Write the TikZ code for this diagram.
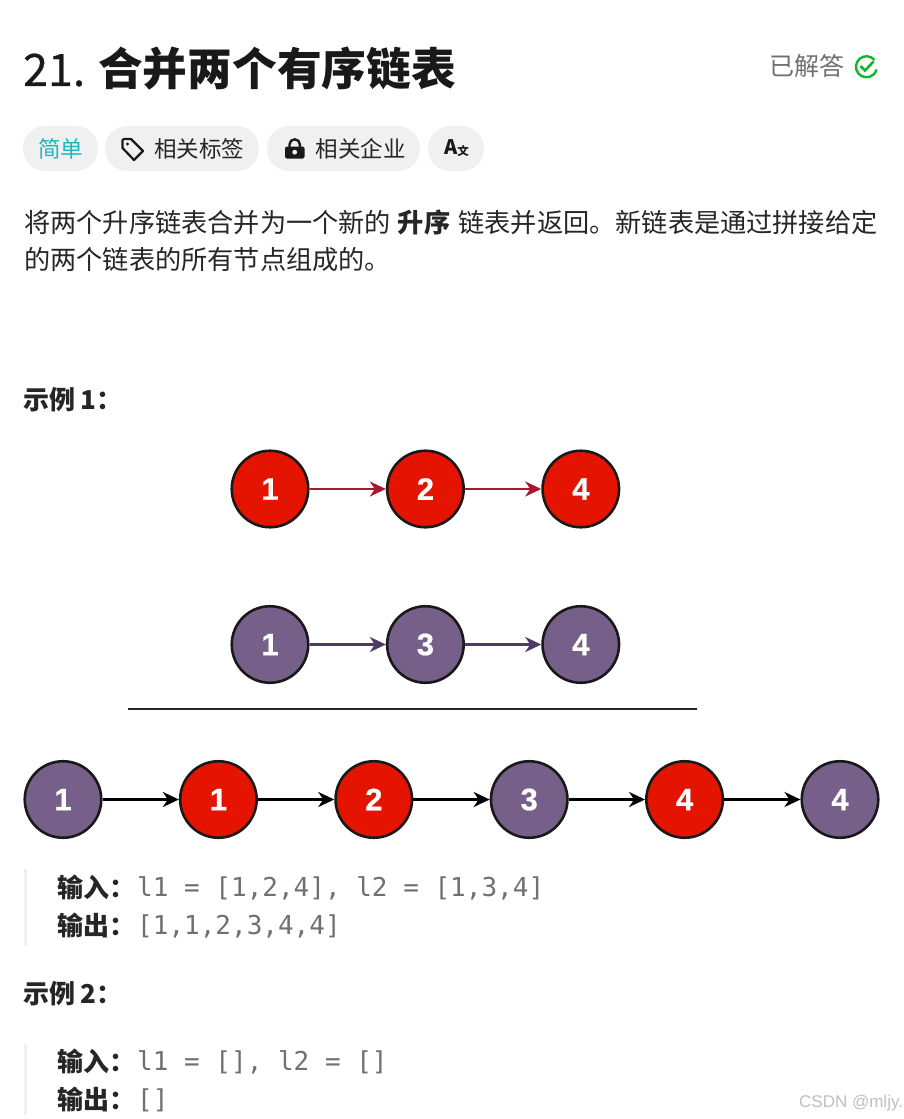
\documentclass[tikz,border=0pt]{standalone}
\usepackage{fontspec}
\usepackage{xcolor}
\usepackage{tikz}
\usetikzlibrary{positioning,arrows.meta}
\setmainfont{Noto Sans CJK SC}
\newfontfamily\codefont{DejaVu Sans Mono}
\newfontfamily\numfont[FakeBold=0.6]{Liberation Sans Bold}
\newfontfamily\titlenum[FakeBold=0.5]{Noto Sans CJK SC}
\newfontfamily\marksfont{Liberation Sans}
\newcommand{\px}[1]{\fontsize{#1}{#1}\selectfont}
\definecolor{inkc}{HTML}{262626}
\definecolor{grayc}{HTML}{707070}
\definecolor{pillc}{HTML}{F0F0F0}
\definecolor{tealc}{HTML}{1CB8B8}
\definecolor{okc}{HTML}{0DB82E}
\definecolor{redc}{HTML}{E51400}
\definecolor{purplec}{HTML}{76608A}
\definecolor{redl}{HTML}{A8182C}
\definecolor{purplel}{HTML}{4F3A66}

\begin{document}
\begin{tikzpicture}[
        x=1pt, y=-1pt,
        node distance=76.3pt,
        txt/.style={anchor=west, inner sep=0pt, text=inkc, font=\px{26.2}},
        head/.style={txt, font=\bfseries\px{26}},
        code/.style={txt, font=\codefont\px{26}, text=grayc},
        pill/.style={fill=pillc, rounded corners=22pt, minimum height=45pt,
                     inner sep=0pt, text=inkc, font=\px{22.5}},
        bar/.style={fill=pillc, inner sep=0pt, minimum width=3pt},
        circ/.style={circle, draw=black!90, line width=2.6pt, minimum size=76.5pt,
                     inner sep=0pt, text=white, font=\numfont\px{31}},
        rednode/.style={circ, fill=redc},
        purnode/.style={circ, fill=purplec},
        arr/.style={-{Stealth[length=16pt,width=15pt,inset=5pt]}, line width=2.6pt},
        redarr/.style={arr, draw=redl},
        purarr/.style={arr, draw=purplel},
        blkarr/.style={arr, draw=black}
    ]
        \useasboundingbox (0,0) rectangle (904,1119);

        \node[txt, font=\px{44.7}, text=black!90] (title) at (23,69)
            {{\titlenum 21.}\hspace{13pt}\textbf{合并两个有序链表}};
        \node[txt, text=grayc, font=\px{25}] (done) at (769,66) {已解答};
        \draw[okc, line width=2.4pt] (874.5,60) arc[start angle=-40, end angle=-345, radius=10.5];
        \draw[okc, line width=2.6pt] (860.5,66) -- (865,70.5) -- (873.5,61.5);

        \node[pill, minimum width=75pt, text=tealc] (easy) at (60.5,148.5) {简单};
        \node[pill, minimum width=154pt] (tags) at (182,148.5) {\hspace*{34pt}相关标签};
        \node[pill, minimum width=153pt] (corp) at (343.5,148.5) {\hspace*{34pt}相关企业};
        \node[pill, minimum width=56pt] (lang) at (456,148.5) {};
        \node[inner sep=0pt, text=black!90, font=\bfseries\px{20}] (langa) at (451,147) {A};
        \node[inner sep=0pt, text=black!90, font=\bfseries\px{11.5}] (langb) at (463,151.5) {文};

        \draw[black!90, line width=2.2pt, line join=round]
            (122.5,140) -- (124,139) -- (131,139) -- (143,151)
            -- (134,160) -- (122.5,148) -- cycle;
        \fill[black!90] (127.5,144) circle[radius=1.7];

        \draw[black!90, line width=2.4pt] (289.5,148) -- (289.5,144.5) arc[start angle=180, end angle=360, radius=5.2] -- (299.9,148);
        \fill[black!90, rounded corners=2pt] (285,146.5) rectangle (304.5,158.5);
        \fill[pillc] (294.7,152.2) circle[radius=2.4];

        \node[txt] (line1) at (24,222)
            {将两个升序链表合并为一个新的\hspace{7pt}\textbf{升序}\hspace{8pt}链表并返回。新链表是通过拼接给定};
        \node[txt] (line2) at (24,260) {的两个链表的所有节点组成的。};

        \node[head] (ex1) at (23,400) {示例\hspace{5pt}1：};

        \node[rednode] (ra) at (270,489) {1};
        \node[rednode, right=of ra] (rb) {2};
        \node[rednode, right=of rb] (rc) {4};
        \draw[redarr] (ra) -- (rb);
        \draw[redarr] (rb) -- (rc);

        \node[purnode] (pa) at (270,644.5) {1};
        \node[purnode, right=of pa] (pb) {3};
        \node[purnode, right=of pb] (pc) {4};
        \draw[purarr] (pa) -- (pb);
        \draw[purarr] (pb) -- (pc);

        \coordinate (rulea) at (128,709);
        \coordinate (ruleb) at (697,709);
        \draw[black!85, line width=2.8pt] (rulea) -- (ruleb);

        \node[purnode] (ma) at (63,799.5) {1};
        \node[rednode, right=of ma] (mb) {1};
        \node[rednode, right=of mb] (mc) {2};
        \node[purnode, right=of mc] (md) {3};
        \node[rednode, right=of md] (me) {4};
        \node[purnode, right=of me] (mf) {4};
        \draw[blkarr] (ma) -- (mb);
        \draw[blkarr] (mb) -- (mc);
        \draw[blkarr] (mc) -- (md);
        \draw[blkarr] (md) -- (me);
        \draw[blkarr] (me) -- (mf);

        \node[bar, minimum height=76pt] (bara) at (25,906.5) {};
        \node[head] (ina) at (57,887) {输入：};
        \node[code] (inav) at (137,888) {l1 = [1,2,4], l2 = [1,3,4]};
        \node[head] (outa) at (57,925) {输出：};
        \node[code] (outav) at (137,926) {[1,1,2,3,4,4]};

        \node[head] (ex2) at (23,994) {示例\hspace{5pt}2：};

        \node[bar, minimum height=71pt] (barb) at (25,1079.5) {};
        \node[head] (inb) at (57,1061) {输入：};
        \node[code] (inbv) at (137,1062) {l1 = [], l2 = []};
        \node[head] (outb) at (57,1099) {输出：};
        \node[code] (outbv) at (137,1100) {[]};

        \node[txt, font=\marksfont\px{17}, text=black!25] (mark) at (799,1103) {CSDN @mljy.};
    \end{tikzpicture}
\end{document}
